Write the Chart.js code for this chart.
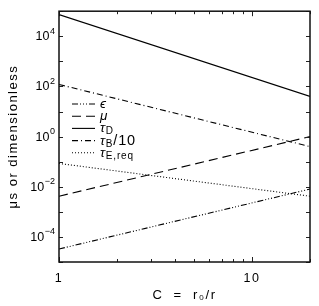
<!DOCTYPE html>
<html>
<head>
<meta charset="utf-8">
<script src="https://cdn.jsdelivr.net/npm/chart.js@4.4.1/dist/chart.umd.min.js"></script>
<style>
  html, body { margin: 0; padding: 0; background: #fff; }
  #grafica { display: block; }
</style>
</head>
<body>
<canvas id="grafica" width="319" height="306"></canvas>
<script>
// Datos (rectas en log-log, se dan los extremos)
const valoresC = [1, 20];
const serieEpsilon = [3.3e-5, 8.1e-3];
const serieMu = [4.2e-3, 1.0];
const serieTauD = [7.3e4, 40];
const serieTauB10 = [120, 0.40];
const serieTauEreq = [0.085, 4.2e-3];

// Marcas de los ejes
const ticksX = [1, 2, 3, 4, 5, 6, 7, 8, 9, 10, 20];
const etiquetasX = { 1: "1", 10: "10" };
const ticksY = [1e-5, 1e-4, 1e-3, 1e-2, 1e-1, 1, 10, 100, 1e3, 1e4, 1e5];
const exponentesY = [-4, -2, 0, 2, 4];

// Leyenda: símbolo, subíndice, resto
const leyenda = [
    { base: "ϵ", sub: "", resto: "", dash: [6, 2, 1, 2, 1, 2, 1, 2] },
    { base: "μ", sub: "", resto: "", dash: [9, 5] },
    { base: "τ", sub: "D", resto: "", dash: [] },
    { base: "τ", sub: "B", resto: "/10", dash: [6, 3, 1, 3] },
    { base: "τ", sub: "E,req", resto: "", dash: [1, 2] }
];

const FUENTE = "'Liberation Sans', Arial, sans-serif";

function puntos(ys) {
    return valoresC.map((c, i) => ({ x: c, y: ys[i] }));
}

function serie(ys, dash) {
    return {
        data: puntos(ys),
        borderColor: "#000",
        borderWidth: 1.1,
        borderDash: dash,
        pointRadius: 0,
        fill: false,
        tension: 0
    };
}

// Marcas hacia dentro, marco, etiquetas 10^n y leyenda
const decoracion = {
    id: "decoracion",
    beforeDraw(chart) {
        chart.ctx.letterSpacing = "1.5px";
    },
    beforeDatasetsDraw(chart) {
        chart.ctx.letterSpacing = "0px";
    },
    afterDraw(chart) {
        const { ctx, chartArea: a, scales } = chart;
        ctx.save();
        ctx.letterSpacing = "0px";
        ctx.strokeStyle = "#222";
        ctx.lineWidth = 1;
        ctx.setLineDash([]);
        ctx.beginPath();
        ticksX.forEach(v => {
            const px = Math.round(scales.x.getPixelForValue(v)) + 0.5;
            const len = (v === 1 || v === 10) ? 5 : 3;
            ctx.moveTo(px, a.bottom); ctx.lineTo(px, a.bottom - len);
            ctx.moveTo(px, a.top); ctx.lineTo(px, a.top + len);
        });
        ticksY.forEach(v => {
            const py = Math.round(scales.y.getPixelForValue(v)) + 0.5;
            ctx.moveTo(a.left, py); ctx.lineTo(a.left + 4, py);
            ctx.moveTo(a.right, py); ctx.lineTo(a.right - 4, py);
        });
        ctx.stroke();

        ctx.lineWidth = 1.5;
        ctx.strokeStyle = "#111";
        ctx.strokeRect(a.left, a.top, a.right - a.left, a.bottom - a.top);

        // etiquetas del eje y: 10 con exponente
        ctx.fillStyle = "#000";
        ctx.textBaseline = "middle";
        ctx.textAlign = "left";
        exponentesY.forEach(e => {
            const py = scales.y.getPixelForValue(Math.pow(10, e));
            const exp = e < 0 ? "\u2212" + Math.abs(e) : String(e);
            ctx.font = "9px " + FUENTE;
            const wExp = ctx.measureText(exp).width;
            ctx.font = "12.5px " + FUENTE;
            const wBase = ctx.measureText("10").width;
            const x0 = a.left - 4 - wExp - wBase - 0.5;
            ctx.fillText("10", x0, py + 0.5);
            ctx.font = "9px " + FUENTE;
            ctx.fillText(exp, x0 + wBase + 0.5, py - 5);
        });

        // leyenda
        ctx.textBaseline = "alphabetic";
        ctx.letterSpacing = "0.8px";
        leyenda.forEach((item, i) => {
            const y = 104 + i * 12.2;
            ctx.beginPath();
            ctx.lineWidth = 1.1;
            ctx.strokeStyle = "#000";
            ctx.setLineDash(item.dash);
            ctx.moveTo(72, y);
            ctx.lineTo(95, y);
            ctx.stroke();
            ctx.setLineDash([]);

            let x = 100;
            ctx.font = "italic 13.5px " + FUENTE;
            ctx.fillText(item.base, x, y + 4);
            x += ctx.measureText(item.base).width;
            if (item.sub) {
                ctx.font = "10px " + FUENTE;
                ctx.fillText(item.sub, x, y + 6);
                x += ctx.measureText(item.sub).width;
            }
            if (item.resto) {
                ctx.font = "14.5px " + FUENTE;
                ctx.fillText(item.resto, x, y + 4);
            }
        });
        ctx.restore();
    }
};

new Chart(document.getElementById("grafica"), {
    type: "line",
    data: {
        datasets: [
            serie(serieEpsilon, [6, 2, 1, 2, 1, 2, 1, 2]),
            serie(serieMu, [9, 5]),
            serie(serieTauD, []),
            serie(serieTauB10, [6, 3, 1, 3]),
            serie(serieTauEreq, [1, 2])
        ]
    },
    options: {
        responsive: false,
        animation: false,
        layout: { padding: { top: 8, right: 5, left: 0, bottom: 0 } },
        plugins: {
            legend: { display: false },
            tooltip: { enabled: false }
        },
        scales: {
            x: {
                type: "logarithmic",
                min: 1,
                max: 20,
                afterBuildTicks: s => { s.ticks = ticksX.map(v => ({ value: v })); },
                afterFit: s => { s.height = 44; },
                grid: { display: false, drawTicks: false },
                border: { display: false },
                ticks: {
                    autoSkip: false,
                    maxRotation: 0,
                    padding: 9,
                    color: "#000",
                    font: { family: FUENTE, size: 12.5 },
                    callback: v => etiquetasX[v] || ""
                },
                title: {
                    display: true,
                    text: "C  =  r₀/r",
                    color: "#000",
                    font: { family: FUENTE, size: 13 },
                    padding: { top: 0, bottom: 3 }
                }
            },
            y: {
                type: "logarithmic",
                min: 1e-5,
                max: 1e5,
                afterBuildTicks: s => { s.ticks = ticksY.map(v => ({ value: v })); },
                afterFit: s => { s.width = 59; },
                grid: { display: false, drawTicks: false },
                border: { display: false },
                ticks: {
                    autoSkip: false,
                    padding: 4,
                    callback: () => ""
                },
                title: {
                    display: true,
                    text: "μs or dimensionless",
                    color: "#000",
                    font: { family: FUENTE, size: 13 },
                    padding: { top: 6, bottom: 0 }
                }
            }
        }
    },
    plugins: [decoracion]
});
</script>
</body>
</html>
